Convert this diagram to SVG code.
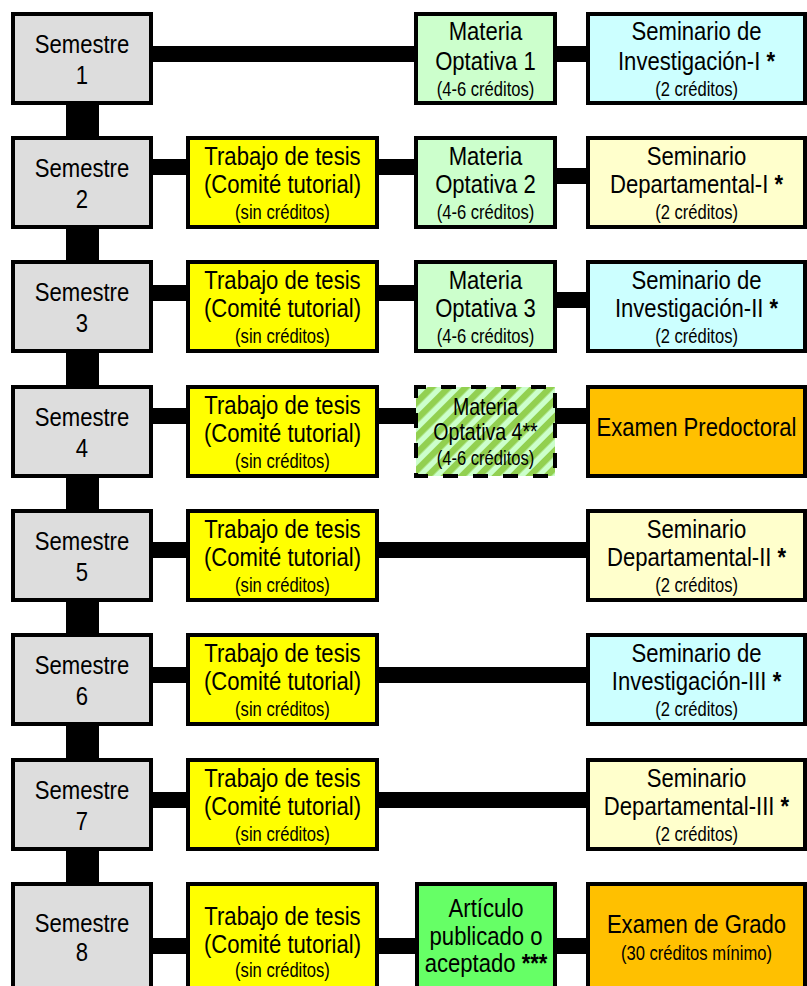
<svg xmlns="http://www.w3.org/2000/svg" width="807" height="986" viewBox="0 0 807 986">
<style>
.box{stroke:#000;stroke-width:4}
.sem{fill:#dddddd}
.tes{fill:#ffff00}
.mat{fill:#ccffcc}
.inv{fill:#ccffff}
.dep{fill:#ffffcc}
.exa{fill:#ffc000}
.art{fill:#66ff66}
text{font-family:"Liberation Sans",Arial,sans-serif;fill:#000;text-anchor:middle;transform-box:fill-box;transform-origin:center;transform:scaleX(0.85)}
.L{font-size:26px}
.M{font-size:23px}
.S{font-size:19.5px}
#connectors line{stroke:#000}
.h{stroke-width:16}
.v{stroke-width:33}
</style>
<defs>
<pattern id="hatch" width="12" height="12" patternUnits="userSpaceOnUse" patternTransform="rotate(45)">
<rect width="12" height="12" fill="#ccffcc"/>
<rect width="6.5" height="12" fill="#92d050"/>
</pattern>
</defs>
<rect width="807" height="986" fill="#fff"/>
<g id="connectors">
<line class="v" x1="82.5" y1="100" x2="82.5" y2="140"/>
<line class="v" x1="82.5" y1="224" x2="82.5" y2="264"/>
<line class="v" x1="82.5" y1="348" x2="82.5" y2="389"/>
<line class="v" x1="82.5" y1="473" x2="82.5" y2="513"/>
<line class="v" x1="82.5" y1="597" x2="82.5" y2="637"/>
<line class="v" x1="82.5" y1="721" x2="82.5" y2="762"/>
<line class="v" x1="82.5" y1="846" x2="82.5" y2="886"/>
<line class="h" x1="150" y1="54" x2="418" y2="54"/>
<line class="h" x1="553" y1="54" x2="590" y2="54"/>
<line class="h" x1="150" y1="167" x2="190" y2="167"/>
<line class="h" x1="375" y1="167" x2="418" y2="167"/>
<line class="h" x1="553" y1="176" x2="590" y2="176"/>
<line class="h" x1="150" y1="293" x2="190" y2="293"/>
<line class="h" x1="375" y1="293" x2="418" y2="293"/>
<line class="h" x1="553" y1="300" x2="590" y2="300"/>
<line class="h" x1="150" y1="416" x2="190" y2="416"/>
<line class="h" x1="375" y1="416" x2="418" y2="416"/>
<line class="h" x1="553" y1="416" x2="590" y2="416"/>
<line class="h" x1="150" y1="550" x2="190" y2="550"/>
<line class="h" x1="375" y1="550" x2="590" y2="550"/>
<line class="h" x1="150" y1="675" x2="190" y2="675"/>
<line class="h" x1="375" y1="675" x2="590" y2="675"/>
<line class="h" x1="150" y1="800" x2="190" y2="800"/>
<line class="h" x1="375" y1="800" x2="590" y2="800"/>
<line class="h" x1="150" y1="946" x2="190" y2="946"/>
<line class="h" x1="375" y1="946" x2="418" y2="946"/>
<line class="h" x1="553" y1="946" x2="590" y2="946"/>
</g>

<!-- Row 1 -->
<g id="sem1"><rect class="box sem" x="13" y="14" width="138" height="89"/><text class="L" x="82" y="53">Semestre<tspan x="82" y="84">1</tspan></text></g>
<g id="mat1"><rect class="box mat" x="416" y="14" width="139" height="89"/><text x="485.5" y="40"><tspan class="L" x="485.5">Materia</tspan><tspan class="L" x="485.5" y="70">Optativa 1</tspan><tspan class="S" x="485.5" y="96">(4-6 créditos)</tspan></text></g>
<g id="inv1"><rect class="box inv" x="588" y="14" width="217" height="89"/><text x="696.5" y="40"><tspan class="L" x="696.5">Seminario de</tspan><tspan class="L" x="696.5" y="70">Investigación-I <tspan font-weight="bold">*</tspan></tspan><tspan class="S" x="696.5" y="96">(2 créditos)</tspan></text></g>

<!-- Row 2 -->
<g id="sem2"><rect class="box sem" x="13" y="138" width="138" height="89"/><text class="L" x="82" y="177">Semestre<tspan x="82" y="208">2</tspan></text></g>
<g id="tes2"><rect class="box tes" x="188" y="138" width="189" height="89"/><text x="282.5" y="165"><tspan class="L" x="282.5">Trabajo de tesis</tspan><tspan class="L" x="282.5" y="193">(Comité tutorial)</tspan><tspan class="S" x="282.5" y="219">(sin créditos)</tspan></text></g>
<g id="mat2"><rect class="box mat" x="416" y="138" width="139" height="89"/><text x="485.5" y="165"><tspan class="L" x="485.5">Materia</tspan><tspan class="L" x="485.5" y="193">Optativa 2</tspan><tspan class="S" x="485.5" y="219">(4-6 créditos)</tspan></text></g>
<g id="dep1"><rect class="box dep" x="588" y="138" width="217" height="89"/><text x="696.5" y="165"><tspan class="L" x="696.5">Seminario</tspan><tspan class="L" x="696.5" y="193">Departamental-I <tspan font-weight="bold">*</tspan></tspan><tspan class="S" x="696.5" y="219">(2 créditos)</tspan></text></g>

<!-- Row 3 -->
<g id="sem3"><rect class="box sem" x="13" y="262" width="138" height="89"/><text class="L" x="82" y="301">Semestre<tspan x="82" y="332">3</tspan></text></g>
<g id="tes3"><rect class="box tes" x="188" y="262" width="189" height="89"/><text x="282.5" y="289"><tspan class="L" x="282.5">Trabajo de tesis</tspan><tspan class="L" x="282.5" y="317">(Comité tutorial)</tspan><tspan class="S" x="282.5" y="343">(sin créditos)</tspan></text></g>
<g id="mat3"><rect class="box mat" x="416" y="262" width="139" height="89"/><text x="485.5" y="289"><tspan class="L" x="485.5">Materia</tspan><tspan class="L" x="485.5" y="317">Optativa 3</tspan><tspan class="S" x="485.5" y="343">(4-6 créditos)</tspan></text></g>
<g id="inv2"><rect class="box inv" x="588" y="262" width="217" height="89"/><text x="696.5" y="289"><tspan class="L" x="696.5">Seminario de</tspan><tspan class="L" x="696.5" y="317">Investigación-II <tspan font-weight="bold">*</tspan></tspan><tspan class="S" x="696.5" y="343">(2 créditos)</tspan></text></g>

<!-- Row 4 -->
<g id="sem4"><rect class="box sem" x="13" y="387" width="138" height="89"/><text class="L" x="82" y="426">Semestre<tspan x="82" y="457">4</tspan></text></g>
<g id="tes4"><rect class="box tes" x="188" y="387" width="189" height="89"/><text x="282.5" y="414"><tspan class="L" x="282.5">Trabajo de tesis</tspan><tspan class="L" x="282.5" y="442">(Comité tutorial)</tspan><tspan class="S" x="282.5" y="468">(sin créditos)</tspan></text></g>
<g id="mat4"><rect x="416" y="387" width="139" height="89" fill="url(#hatch)" stroke="#000" stroke-width="4" stroke-dasharray="15 15" stroke-dashoffset="5"/><text x="485.5" y="415"><tspan class="M" x="485.5">Materia</tspan><tspan class="M" x="485.5" y="440">Optativa 4**</tspan><tspan class="S" x="485.5" y="465">(4-6 créditos)</tspan></text></g>
<g id="pre"><rect class="box exa" x="588" y="387" width="217" height="89"/><text class="L" x="696.5" y="436">Examen Predoctoral</text></g>

<!-- Row 5 -->
<g id="sem5"><rect class="box sem" x="13" y="511" width="138" height="89"/><text class="L" x="82" y="550">Semestre<tspan x="82" y="581">5</tspan></text></g>
<g id="tes5"><rect class="box tes" x="188" y="511" width="189" height="89"/><text x="282.5" y="538"><tspan class="L" x="282.5">Trabajo de tesis</tspan><tspan class="L" x="282.5" y="566">(Comité tutorial)</tspan><tspan class="S" x="282.5" y="592">(sin créditos)</tspan></text></g>
<g id="dep2"><rect class="box dep" x="588" y="511" width="217" height="89"/><text x="696.5" y="538"><tspan class="L" x="696.5">Seminario</tspan><tspan class="L" x="696.5" y="566">Departamental-II <tspan font-weight="bold">*</tspan></tspan><tspan class="S" x="696.5" y="592">(2 créditos)</tspan></text></g>

<!-- Row 6 -->
<g id="sem6"><rect class="box sem" x="13" y="635" width="138" height="89"/><text class="L" x="82" y="674">Semestre<tspan x="82" y="705">6</tspan></text></g>
<g id="tes6"><rect class="box tes" x="188" y="635" width="189" height="89"/><text x="282.5" y="662"><tspan class="L" x="282.5">Trabajo de tesis</tspan><tspan class="L" x="282.5" y="690">(Comité tutorial)</tspan><tspan class="S" x="282.5" y="716">(sin créditos)</tspan></text></g>
<g id="inv3"><rect class="box inv" x="588" y="635" width="217" height="89"/><text x="696.5" y="662"><tspan class="L" x="696.5">Seminario de</tspan><tspan class="L" x="696.5" y="690">Investigación-III <tspan font-weight="bold">*</tspan></tspan><tspan class="S" x="696.5" y="716">(2 créditos)</tspan></text></g>

<!-- Row 7 -->
<g id="sem7"><rect class="box sem" x="13" y="760" width="138" height="89"/><text class="L" x="82" y="799">Semestre<tspan x="82" y="830">7</tspan></text></g>
<g id="tes7"><rect class="box tes" x="188" y="760" width="189" height="89"/><text x="282.5" y="787"><tspan class="L" x="282.5">Trabajo de tesis</tspan><tspan class="L" x="282.5" y="815">(Comité tutorial)</tspan><tspan class="S" x="282.5" y="841">(sin créditos)</tspan></text></g>
<g id="dep3"><rect class="box dep" x="588" y="760" width="217" height="89"/><text x="696.5" y="787"><tspan class="L" x="696.5">Seminario</tspan><tspan class="L" x="696.5" y="815">Departamental-III <tspan font-weight="bold">*</tspan></tspan><tspan class="S" x="696.5" y="841">(2 créditos)</tspan></text></g>

<!-- Row 8 -->
<g id="sem8"><rect class="box sem" x="13" y="884" width="138" height="120"/><text class="L" x="82" y="932">Semestre<tspan x="82" y="961">8</tspan></text></g>
<g id="tes8"><rect class="box tes" x="188" y="884" width="189" height="120"/><text x="282.5" y="925"><tspan class="L" x="282.5">Trabajo de tesis</tspan><tspan class="L" x="282.5" y="953">(Comité tutorial)</tspan><tspan class="S" x="282.5" y="977">(sin créditos)</tspan></text></g>
<g id="art"><rect class="box art" x="417" y="884" width="138" height="120"/><text class="L" x="486" y="917">Artículo<tspan x="486" y="945">publicado o</tspan><tspan x="486" y="972">aceptado <tspan font-weight="bold">***</tspan></tspan></text></g>
<g id="grado"><rect class="box exa" x="588" y="884" width="217" height="120"/><text x="696.5" y="933"><tspan class="L" x="696.5">Examen de Grado</tspan><tspan class="S" x="696.5" y="960">(30 créditos mínimo)</tspan></text></g>
</svg>
